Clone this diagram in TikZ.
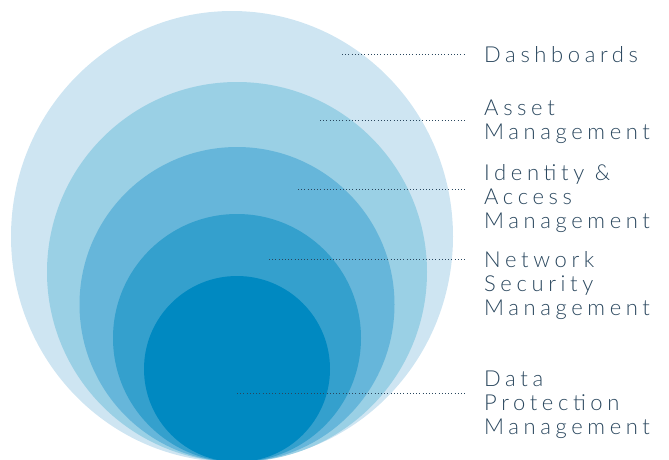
\documentclass[tikz,border=0pt]{standalone}
\usepackage{fontspec}
\setmainfont{Lato Light}[LetterSpace=21]
\usetikzlibrary{positioning,shapes.geometric}

\definecolor{ringA}{HTML}{CEE5F2}
\definecolor{ringB}{HTML}{9AD0E5}
\definecolor{ringC}{HTML}{66B6DA}
\definecolor{ringD}{HTML}{34A0CD}
\definecolor{ringE}{HTML}{0089C1}
\definecolor{ink}{HTML}{2A475E}

\begin{document}
\begin{tikzpicture}[x=1pt,y=-1pt]
	\tikzstyle{ring}=[ellipse,inner sep=0pt,outer sep=0pt]
	\tikzstyle{ringtext}=[anchor=base west,align=left,inner sep=0pt,text=ink,font=\fontsize{22}{24}\selectfont]
	\tikzstyle{leader}=[draw=ink,line width=1pt,dash pattern=on 1pt off 2.2pt]

	\clip (0,0) rectangle (669,459);

	% nested rings, all touching at the bottom (x centre / half width / half height)
	\foreach \x/\w/\r/\c/\n in {232/221/225.5/ringA/dash, 237/190/190/ringB/asset, 237/157.5/157.5/ringC/iam, 237/124/124/ringD/net, 237/93/93/ringE/data}
		\node[ring,fill=\c,minimum width={2*\w pt},minimum height={2*\r pt}] (\n) at (\x,462-\r) {};

	% captions (placed on the baseline of their last line)
	\node[ringtext] (dash-t) at (484,62) {Dashboards};
	\node[ringtext] (asset-t) at (484,139.5) {Asset\\Management};
	\node[ringtext] (iam-t) at (484,228.5) {Identity \&\\Access\\Management};
	\node[ringtext] (net-t) at (484,315) {Network\\Security\\Management};
	\node[ringtext] (data-t) at (484,434) {Data\\Protection\\Management};

	% dotted leaders
	\coordinate (dash-in) at (342,54);   \coordinate (dash-out) at (466,54);
	\coordinate (asset-in) at (320,120); \coordinate (asset-out) at (466,120);
	\coordinate (iam-in) at (298,189);   \coordinate (iam-out) at (466,189);
	\coordinate (net-in) at (269,259);   \coordinate (net-out) at (466,259);
	\coordinate (data-in) at (237,393);  \coordinate (data-out) at (466,393);
	\foreach \n in {dash,asset,iam,net,data}
		\draw[leader] (\n-in) -- (\n-out);
\end{tikzpicture}
\end{document}
